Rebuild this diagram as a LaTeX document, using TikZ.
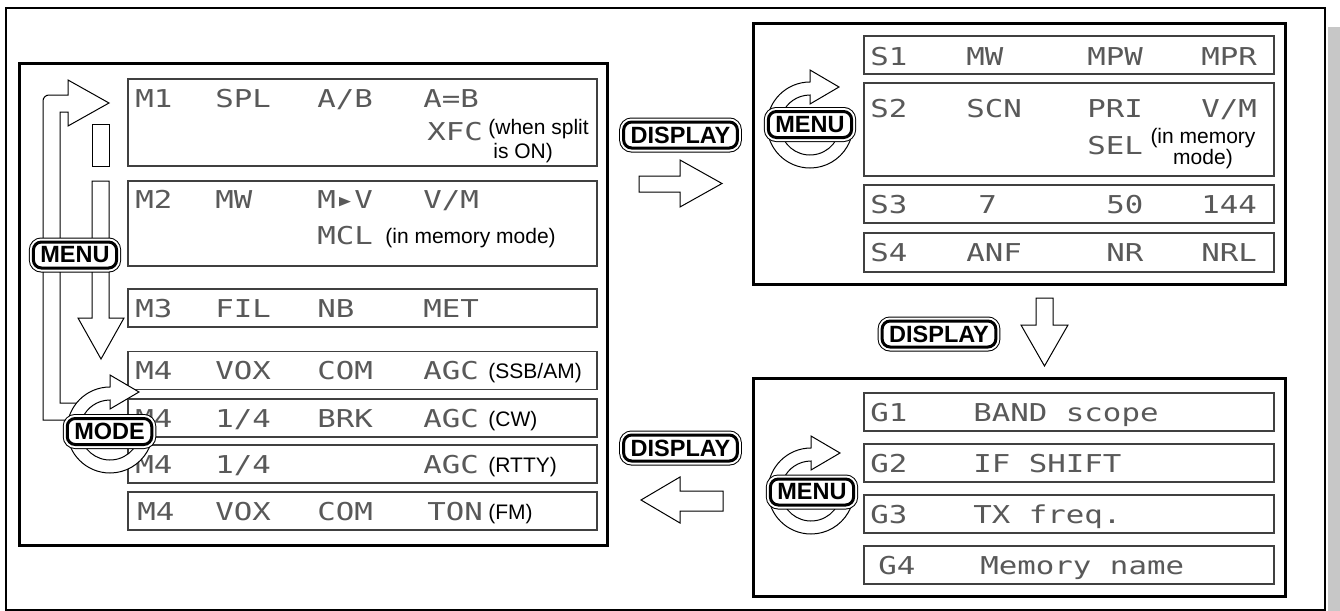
\documentclass[tikz,border=0pt]{standalone}
\usepackage{fontspec}
\setmainfont{Liberation Sans}
\newfontfamily\lcdfont[FakeStretch=1.25]{DejaVu Sans Mono}

\begin{document}
\begin{tikzpicture}[x=0.5pt, y=-0.5pt,
    panel/.style={rectangle, draw, line width=1.5pt, fill=white, inner sep=0pt},
    row/.style={rectangle, draw=black!75, line width=0.6pt, fill=white, inner sep=0pt, minimum height=19pt},
    mrow/.style={row, minimum width=234.5pt},
    srow/.style={row, minimum width=205pt},
    lcd/.style={font=\lcdfont\fontsize{12.3}{14}\selectfont, text=black!65, anchor=west, inner sep=0pt, text height=9pt, text depth=0pt},
    note/.style={font=\fontsize{10.5}{11}\selectfont, anchor=west, inner sep=0pt, text height=8pt, text depth=0pt},
    notes/.style={font=\fontsize{10.5}{#1}\selectfont, inner sep=0pt},
    keybtn/.style={rectangle, rounded corners=4pt, fill=white, draw=black, line width=1.5pt, inner xsep=3.5pt, inner ysep=0pt, minimum height=13pt, font=\fontsize{11.75}{14}\selectfont\bfseries, preaction={draw=black, line width=4.5pt}, preaction={draw=white, line width=3.5pt}},
    blockarr/.style={draw=black, line width=0.5pt, fill=white},
    turnarr/.pic={\draw[blockarr] (0,-30) -- (0,-21) -- (29,-38) -- (0,-55) -- (0,-43) arc[start angle=-90, end angle=-365, radius=43] -- ++(-365:-13) arc[start angle=-365, end angle=-90, radius=30] -- cycle;}
]
\useasboundingbox (0,0) rectangle (1340,611);
\fill[black!22] (1328,27) rectangle (1340,611);
\draw[line width=1pt] (6,8) rectangle (1325,609.5);

% Menu screens M1-M4
\node[panel, minimum width=294pt, minimum height=241pt] (mbox) at (313,304) {};
\node[mrow, minimum height=43.5pt] (m1) at (362.5,122.5) {};
\node[mrow, minimum height=42.5pt] (m2) at (362.5,223.5) {};
\node[mrow] (m3) at (362.5,308) {};
\node[mrow] (m4a) at (362.5,370.5) {};
\node[mrow] (m4b) at (362.5,418) {};
\node[mrow] (m4c) at (362.5,464) {};
\node[mrow] (m4d) at (362.5,511) {};

\node[lcd] (m1a) at (135,98) {M1};
\node[lcd] (m1b) at (215,98) {SPL};
\node[lcd] (m1c) at (317,98) {A/B};
\node[lcd] (m1d) at (423,98) {A=B};
\node[lcd] (m1e) at (427,131) {XFC};
\node[notes=12, anchor=west, align=left] (m1n) at (488,141) {(when split\\\hspace*{2.5pt}is ON)};

\node[lcd] (m2a) at (135,199) {M2};
\node[lcd] (m2b) at (215,199) {MW};
\node[lcd] (m2c) at (317,199) {M▸V};
\node[lcd] (m2d) at (423,199) {V/M};
\node[lcd] (m2e) at (317,235) {MCL};
\node[note] (m2n) at (385,235) {(in memory mode)};

\node[lcd] (m3a) at (135,308) {M3};
\node[lcd] (m3b) at (215,308) {FIL};
\node[lcd] (m3c) at (317,308) {NB};
\node[lcd] (m3d) at (423,308) {MET};

\node[lcd] (m4aa) at (135,370.5) {M4};
\node[lcd] (m4ab) at (215,370.5) {VOX};
\node[lcd] (m4ac) at (317,370.5) {COM};
\node[lcd] (m4ad) at (423,370.5) {AGC};
\node[note] (m4an) at (488,370.5) {(SSB/AM)};

\node[lcd] (m4ba) at (135,418) {M4};
\node[lcd] (m4bb) at (215,418) {1/4};
\node[lcd] (m4bc) at (317,418) {BRK};
\node[lcd] (m4bd) at (423,418) {AGC};
\node[note] (m4bn) at (488,418) {(CW)};

\node[lcd] (m4ca) at (135,464) {M4};
\node[lcd] (m4cb) at (215,464) {1/4};
\node[lcd] (m4cd) at (423,464) {AGC};
\node[note] (m4cn) at (488,464) {(RTTY)};

\node[lcd] (m4da) at (137,511) {M4};
\node[lcd] (m4db) at (215,511) {VOX};
\node[lcd] (m4dc) at (317,511) {COM};
\node[lcd] (m4dd) at (427,511) {TON};
\node[note] (m4dn) at (488,511) {(FM)};

% Set screens S1-S4
\node[panel, minimum width=266pt, minimum height=130.5pt] (sbox) at (1019,153.5) {};
\node[srow] (s1) at (1069,55) {};
\node[srow, minimum height=46.5pt] (s2) at (1069,129.5) {};
\node[srow] (s3) at (1069,204) {};
\node[srow, minimum height=19.5pt] (s4) at (1069,252.5) {};

\node[lcd] (s1a) at (870,56) {S1};
\node[lcd] (s1b) at (966,56) {MW};
\node[lcd] (s1c) at (1087,56) {MPW};
\node[lcd] (s1d) at (1201,56) {MPR};

\node[lcd] (s2a) at (870,108) {S2};
\node[lcd] (s2b) at (966,108) {SCN};
\node[lcd] (s2c) at (1087,108) {PRI};
\node[lcd] (s2d) at (1201,108) {V/M};
\node[lcd] (s2e) at (1087,145) {SEL};
\node[notes=10.5, align=center] (s2n) at (1203,149) {(in memory\\mode)};

\node[lcd] (s3a) at (870,204) {S3};
\node[lcd] (s3b) at (978,204) {7};
\node[lcd] (s3c) at (1106,204) {50};
\node[lcd] (s3d) at (1201,204) {144};

\node[lcd] (s4a) at (870,252.5) {S4};
\node[lcd] (s4b) at (966,252.5) {ANF};
\node[lcd] (s4c) at (1106,252.5) {NR};
\node[lcd] (s4d) at (1201,252.5) {NRL};

% Graphic screens G1-G4
\node[panel, minimum width=266pt, minimum height=109pt] (gbox) at (1019,487) {};
\node[srow] (g1) at (1069,412) {};
\node[srow] (g2) at (1069,463) {};
\node[srow] (g3) at (1069,514) {};
\node[srow] (g4) at (1069,565) {};

\node[lcd] (g1a) at (870,412) {G1};
\node[lcd] (g1b) at (973,412) {BAND scope};
\node[lcd] (g2a) at (870,463) {G2};
\node[lcd] (g2b) at (973,463) {IF SHIFT};
\node[lcd] (g3a) at (870,514) {G3};
\node[lcd] (g3b) at (973,514) {TX freq.};
\node[lcd] (g4a) at (878,565) {G4};
\node[lcd] (g4b) at (980,565) {Memory name};

% Block arrows
\draw[blockarr] (639,176) -- (680,176) -- (680,160) -- (722,183.5) -- (680,207) -- (680,192) -- (639,192) -- cycle;
\draw[blockarr] (1036,298) -- (1053,298) -- (1053,325) -- (1068,325) -- (1044.5,366) -- (1021,325) -- (1036,325) -- cycle;
\draw[blockarr] (723,491) -- (680,491) -- (680,477) -- (641,500) -- (680,523) -- (680,511) -- (723,511) -- cycle;

% MENU loop on the left
\draw[blockarr] (92,124) rectangle (109,166);
\draw[blockarr] (92,181) -- (109,181) -- (109,318) -- (124,318) -- (101,359) -- (78,318) -- (92,318) -- cycle;
\draw[blockarr] (85,420) -- (43,420) -- (43,101) arc[start angle=180, end angle=270, radius=6] -- (68,95) -- (68,80) -- (109,103) -- (68,126) -- (68,112) -- (60,112) -- (60,403) -- (85,403);

% Turning arrows
\pic (modering) at (110,430) {turnarr};
\pic (menusring) at (810,125) {turnarr};
\pic (menugring) at (811,491) {turnarr};

% Keys
\node[keybtn] (menuM) at (75,255) {MENU};
\node[keybtn] (modeM) at (109.5,431.5) {MODE};
\node[keybtn] (menuS) at (810,124.5) {MENU};
\node[keybtn] (menuG) at (812,492) {MENU};
\node[keybtn] (disp1) at (680.5,135) {DISPLAY};
\node[keybtn] (disp2) at (939,334) {DISPLAY};
\node[keybtn] (disp3) at (680.5,448) {DISPLAY};
\end{tikzpicture}
\end{document}
